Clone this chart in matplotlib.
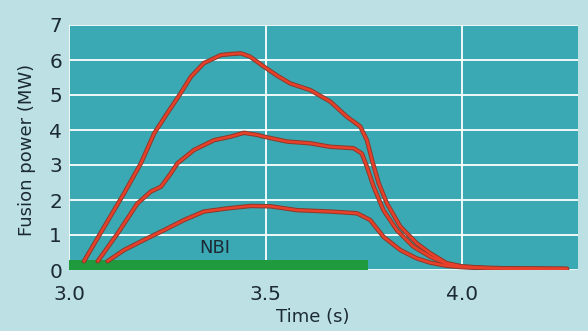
import matplotlib
matplotlib.use("Agg")
import matplotlib.pyplot as plt

# Data
t_high = [3.038, 3.090, 3.140, 3.183, 3.217, 3.250, 3.284, 3.310, 3.343, 3.386, 3.411, 3.437, 3.460,
          3.496, 3.530, 3.563, 3.614, 3.665, 3.707, 3.741, 3.758, 3.771, 3.788, 3.809, 3.843,
          3.885, 3.919, 3.960, 4.000, 4.060, 4.150, 4.267]
p_high = [0.25, 1.24, 2.19, 3.05, 3.91, 4.48, 5.05, 5.52, 5.91, 6.14, 6.17, 6.19, 6.10,
          5.81, 5.55, 5.33, 5.14, 4.81, 4.38, 4.10, 3.71, 3.14, 2.48, 1.90, 1.24,
          0.76, 0.48, 0.20, 0.10, 0.06, 0.04, 0.03]

t_mid = [3.073, 3.124, 3.174, 3.208, 3.234, 3.259, 3.276, 3.318, 3.369, 3.411, 3.445, 3.479,
         3.496, 3.555, 3.614, 3.665, 3.724, 3.745, 3.758, 3.775, 3.800, 3.834, 3.876, 3.919,
         3.960, 4.000, 4.060, 4.150, 4.267]
p_mid = [0.25, 1.05, 1.90, 2.24, 2.38, 2.76, 3.05, 3.43, 3.71, 3.81, 3.92, 3.86,
         3.81, 3.67, 3.62, 3.52, 3.48, 3.33, 2.95, 2.38, 1.71, 1.14, 0.67, 0.38,
         0.18, 0.10, 0.06, 0.04, 0.03]

t_low = [3.098, 3.140, 3.191, 3.242, 3.293, 3.343, 3.403, 3.462, 3.513, 3.580, 3.665,
         3.733, 3.766, 3.800, 3.843, 3.885, 3.919, 3.960, 4.000, 4.060, 4.150, 4.267]
p_low = [0.25, 0.57, 0.86, 1.14, 1.43, 1.67, 1.76, 1.83, 1.82, 1.71, 1.67,
         1.62, 1.43, 0.95, 0.57, 0.33, 0.21, 0.12, 0.08, 0.05, 0.04, 0.03]

nbi_start, nbi_end, nbi_height = 3.0, 3.76, 0.29

x_ticks = [3.0, 3.5, 4.0]
x_ticklabels = ["3.0", "3.5", "4.0"]
y_ticks = [0, 1, 2, 3, 4, 5, 6, 7]

outer = "#bce0e3"
teal = "#3aa9b3"
txt = "#1c2a36"

fig = plt.figure(figsize=(5.88, 3.31), dpi=100, facecolor=outer)
ax = fig.add_axes([69/588, 1 - 270/331, (578-69)/588, (270-25)/331])
ax.set_facecolor(teal)
ax.set_xlim(3.0, 4.295)
ax.set_ylim(0, 7)

for s in ax.spines.values():
    s.set_visible(False)

ax.set_xticks(x_ticks)
ax.set_xticklabels(x_ticklabels)
ax.set_yticks(y_ticks)
ax.tick_params(length=0, labelsize=14.5, colors=txt)
ax.tick_params(axis="y", pad=5)
ax.tick_params(axis="x", pad=11)
ax.grid(True, color="white", linewidth=1.3)
ax.set_axisbelow(True)

ax.fill_between([nbi_start, nbi_end], 0, nbi_height, color="#1f9a3c", zorder=2, linewidth=0)
ax.text(3.37, 0.37, "NBI", fontsize=13, color=txt, ha="center", va="bottom", zorder=3)

for t, p in [(t_high, p_high), (t_mid, p_mid), (t_low, p_low)]:
    ax.plot(t, p, color="#8a3a2a", linewidth=3.2, zorder=3,
            solid_capstyle="round", solid_joinstyle="round")
    ax.plot(t, p, color="#e8402a", linewidth=1.8, zorder=4,
            solid_capstyle="round", solid_joinstyle="round")

ax.set_xlabel("Time (s)", fontsize=13, color=txt)
ax.set_ylabel("Fusion power (MW)", fontsize=13, color=txt)
ax.xaxis.set_label_coords(0.479, -0.155)
ax.yaxis.set_label_coords(-0.064, 0.49)

fig.savefig("out.png", dpi=100, facecolor=outer)
